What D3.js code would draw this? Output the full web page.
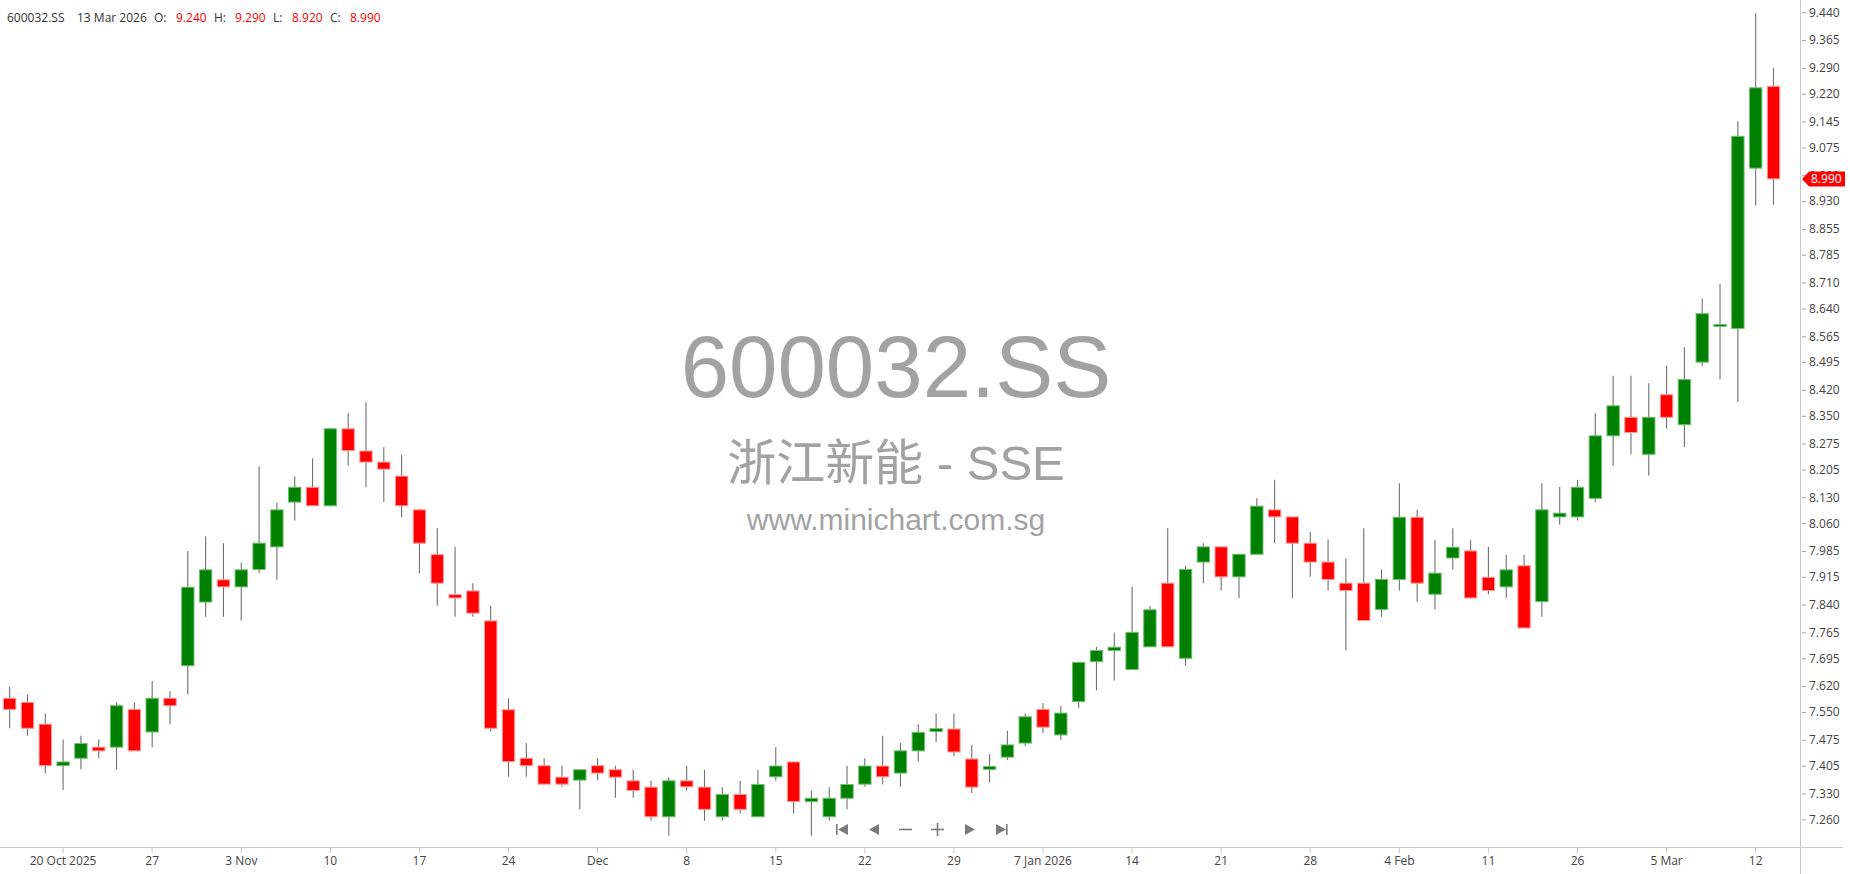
<!DOCTYPE html>
<html lang="en">
<head>
<meta charset="UTF-8">
<title>600032.SS</title>
<script src="https://d3js.org/d3.v7.min.js"></script>
<style>
  html, body { margin: 0; padding: 0; background: #fff; }
  svg { display: block; }
  .ui text { font-family: "Open Sans", "Liberation Sans", sans-serif; font-size: 12px; }
</style>
</head>
<body>
<div id="chart"></div>
<script>
// trading days, 15 Oct 2025 .. 13 Mar 2026
const dates = [
  '2025-10-15','2025-10-16','2025-10-17','2025-10-20','2025-10-21','2025-10-22','2025-10-23','2025-10-24','2025-10-27','2025-10-28','2025-10-29','2025-10-30','2025-10-31',
  '2025-11-03','2025-11-04','2025-11-05','2025-11-06','2025-11-07','2025-11-10','2025-11-11','2025-11-12','2025-11-13','2025-11-14','2025-11-17','2025-11-18','2025-11-19','2025-11-20','2025-11-21','2025-11-24','2025-11-25','2025-11-26','2025-11-27','2025-11-28',
  '2025-12-01','2025-12-02','2025-12-03','2025-12-04','2025-12-05','2025-12-08','2025-12-09','2025-12-10','2025-12-11','2025-12-12','2025-12-15','2025-12-16','2025-12-17','2025-12-18','2025-12-19','2025-12-22','2025-12-23','2025-12-24','2025-12-25','2025-12-26','2025-12-29','2025-12-30','2025-12-31',
  '2026-01-05','2026-01-06','2026-01-07','2026-01-08','2026-01-09','2026-01-12','2026-01-13','2026-01-14','2026-01-15','2026-01-16','2026-01-19','2026-01-20','2026-01-21','2026-01-22','2026-01-23','2026-01-26','2026-01-27','2026-01-28','2026-01-29','2026-01-30',
  '2026-02-02','2026-02-03','2026-02-04','2026-02-05','2026-02-06','2026-02-09','2026-02-10','2026-02-11','2026-02-12','2026-02-13','2026-02-24','2026-02-25','2026-02-26','2026-02-27',
  '2026-03-02','2026-03-03','2026-03-04','2026-03-05','2026-03-06','2026-03-09','2026-03-10','2026-03-11','2026-03-12','2026-03-13'
];
const open = [
  7.587,7.576,7.517,7.405,7.425,7.455,7.455,7.557,7.496,7.587,7.675,7.847,7.907,
  7.888,7.935,7.996,8.117,8.157,8.107,8.315,8.255,8.225,8.187,8.096,7.975,7.867,7.877,7.796,7.556,7.425,7.405,7.374,7.366,
  7.405,7.394,7.364,7.347,7.267,7.364,7.347,7.267,7.327,7.267,7.375,7.415,7.308,7.267,7.317,7.355,7.404,7.385,7.445,7.497,7.504,7.423,7.395,
  7.428,7.466,7.557,7.488,7.578,7.686,7.716,7.665,7.726,7.898,7.695,7.955,7.996,7.915,7.976,8.096,8.077,8.006,7.955,7.898,
  7.898,7.827,7.908,8.076,7.868,7.966,7.985,7.914,7.888,7.945,7.848,8.077,8.077,8.127,
  8.296,8.346,8.246,8.407,8.326,8.495,8.593,8.586,9.019,9.240
];
const high = [
  7.618,7.597,7.546,7.476,7.486,7.476,7.576,7.576,7.634,7.607,7.985,8.025,8.006,
  7.954,8.214,8.116,8.187,8.235,8.318,8.357,8.387,8.265,8.245,8.099,8.046,7.996,7.898,7.837,7.587,7.466,7.425,7.405,7.394,
  7.425,7.405,7.394,7.364,7.374,7.405,7.394,7.347,7.364,7.394,7.455,7.416,7.337,7.347,7.405,7.425,7.486,7.466,7.517,7.546,7.545,7.461,7.436,
  7.499,7.546,7.574,7.566,7.686,7.726,7.765,7.888,7.836,8.046,7.945,8.006,7.996,7.976,8.127,8.177,8.077,8.036,8.016,7.965,
  8.046,7.935,8.168,8.096,8.015,8.046,8.015,7.996,7.975,7.975,8.168,8.158,8.177,8.357,
  8.458,8.458,8.438,8.485,8.535,8.667,8.707,9.146,9.437,9.290
];
const low = [
  7.506,7.486,7.384,7.339,7.395,7.425,7.395,7.445,7.455,7.517,7.597,7.807,7.807,
  7.797,7.925,7.907,8.067,8.107,8.105,8.215,8.157,8.117,8.077,7.925,7.837,7.807,7.807,7.497,7.375,7.375,7.355,7.348,7.287,
  7.366,7.318,7.318,7.256,7.216,7.338,7.256,7.256,7.276,7.267,7.364,7.276,7.216,7.256,7.287,7.348,7.355,7.348,7.416,7.469,7.431,7.331,7.361,
  7.420,7.458,7.493,7.474,7.561,7.608,7.635,7.665,7.726,7.726,7.675,7.898,7.878,7.857,7.976,8.006,7.857,7.915,7.878,7.716,
  7.797,7.807,7.878,7.848,7.827,7.935,7.858,7.868,7.858,7.777,7.807,8.056,8.067,8.117,
  8.215,8.246,8.188,8.316,8.266,8.485,8.449,8.387,8.918,8.920
];
const close = [
  7.557,7.506,7.405,7.415,7.465,7.445,7.567,7.445,7.587,7.567,7.887,7.934,7.888,
  7.934,8.006,8.096,8.157,8.107,8.315,8.256,8.225,8.206,8.107,8.006,7.898,7.858,7.817,7.506,7.416,7.405,7.355,7.355,7.394,
  7.385,7.374,7.338,7.267,7.364,7.348,7.287,7.327,7.287,7.354,7.404,7.308,7.317,7.317,7.354,7.404,7.375,7.445,7.495,7.505,7.442,7.347,7.403,
  7.461,7.537,7.509,7.547,7.684,7.716,7.725,7.765,7.826,7.726,7.935,7.996,7.915,7.976,8.106,8.077,8.006,7.955,7.908,7.878,
  7.797,7.908,8.076,7.898,7.925,7.995,7.858,7.878,7.934,7.777,8.096,8.087,8.157,8.296,
  8.377,8.305,8.346,8.346,8.448,8.626,8.597,9.105,9.236,8.990
];

// axis ticks
const yTicks = [9.44,9.365,9.29,9.22,9.145,9.075,9.0,8.93,8.855,8.785,8.71,8.64,8.565,8.495,8.42,8.35,
  8.275,8.205,8.13,8.06,7.985,7.915,7.84,7.765,7.695,7.62,7.55,7.475,7.405,7.33,7.26];
const xTickDates = ['2025-10-20','2025-10-27','2025-11-03','2025-11-10','2025-11-17','2025-11-24','2025-12-01','2025-12-08',
  '2025-12-15','2025-12-22','2025-12-29','2026-01-07','2026-01-14','2026-01-21','2026-01-28','2026-02-04','2026-02-11',
  '2026-02-26','2026-03-05','2026-03-12'];
const xTickLabels = ['20 Oct 2025','27','3 Nov','10','17','24','Dec','8','15','22','29','7 Jan 2026','14','21','28',
  '4 Feb','11','26','5 Mar','12'];

const symbol = '600032.SS';
const companyName = '浙江新能 - SSE';
const site = 'www.minichart.com.sg';
const lastDate = '13 Mar 2026';

const W = 1850, H = 874;
const plotBottom = 847, axisX = 1800;

const svg = d3.select('#chart').append('svg')
    .attr('width', W)
    .attr('height', H);

const x = d3.scaleBand()
    .domain(dates)
    .range([0.74, 1782.4])
    .paddingInner(0.25)
    .paddingOuter(0.125);
const y = d3.scaleLinear()
    .domain([7.1853, 9.4732])
    .range([plotBottom, 0]);

const bw = x.bandwidth();
const f3 = d3.format('.3f');

// watermark
const wm = svg.append('g').attr('fill', '#a2a2a2').attr('text-anchor', 'middle');
wm.append('text')
    .attr('x', 896).attr('y', 397)
    .style('font-family', '"Liberation Sans", Arial, sans-serif')
    .style('font-size', '87px')
    .text(symbol);
wm.append('text')
    .attr('x', 896).attr('y', 480)
    .style('font-family', '"Liberation Sans", "Noto Sans CJK SC", sans-serif')
    .style('font-size', '49px')
    .text(companyName);
wm.append('text')
    .attr('x', 896).attr('y', 530)
    .style('font-family', '"Liberation Sans", Arial, sans-serif')
    .style('font-size', '30px')
    .text(site);

// frame lines
svg.append('line')
    .attr('x1', 0).attr('x2', 1843)
    .attr('y1', plotBottom + 0.5).attr('y2', plotBottom + 0.5)
    .attr('stroke', '#c8c8c8');
svg.append('line')
    .attr('x1', axisX + 0.5).attr('x2', axisX + 0.5)
    .attr('y1', 0).attr('y2', H)
    .attr('stroke', '#c8c8c8');

// candles
const candles = dates.map((d, i) => ({ d, o: open[i], h: high[i], l: low[i], c: close[i] }));

const cg = svg.append('g');
cg.selectAll('.wick')
    .data(candles)
    .enter().append('line')
    .attr('class', 'wick')
    .attr('x1', d => x(d.d) + bw / 2)
    .attr('x2', d => x(d.d) + bw / 2)
    .attr('y1', d => y(d.h))
    .attr('y2', d => y(d.l))
    .attr('stroke', '#707070')
    .attr('stroke-width', 1.1);

cg.selectAll('.body')
    .data(candles)
    .enter().append('rect')
    .attr('class', 'body')
    .attr('x', d => x(d.d) + 0.5)
    .attr('y', d => y(Math.max(d.o, d.c)))
    .attr('width', bw - 1)
    .attr('height', d => Math.max(2, Math.abs(y(d.o) - y(d.c))))
    .attr('fill', d => d.c >= d.o ? '#008000' : '#ff0000')
    .attr('stroke', d => d.c >= d.o ? '#6fbf6f' : '#ff9a9a')
    .attr('stroke-width', 1);

// right price axis
const yAxis = svg.append('g')
    .attr('class', 'ui')
    .attr('transform', `translate(${axisX + 2},0)`)
    .call(d3.axisRight(y).tickValues(yTicks).tickSize(4).tickPadding(3).tickFormat(f3));
yAxis.select('.domain').remove();
yAxis.selectAll('line').attr('stroke', '#a0a0a0');
yAxis.selectAll('text').attr('fill', '#444').style('font-family', '"Open Sans", sans-serif').style('font-size', '12px');

// bottom date axis
const xAxis = svg.append('g')
    .attr('class', 'ui')
    .attr('transform', `translate(0,${plotBottom})`)
    .call(d3.axisBottom(x).tickValues(xTickDates).tickSize(6).tickPadding(3)
        .tickFormat(d => xTickLabels[xTickDates.indexOf(d)]));
xAxis.select('.domain').remove();
xAxis.selectAll('line').attr('stroke', '#c8c8c8');
xAxis.selectAll('text').attr('fill', '#444').style('font-family', '"Open Sans", sans-serif').style('font-size', '12px');

// last price tag
const last = candles[candles.length - 1];
const ly = y(last.c);
svg.append('path')
    .attr('d', `M${axisX + 2},${ly} L${axisX + 9},${ly - 7.5} L${axisX + 45},${ly - 7.5} L${axisX + 45},${ly + 7.5} L${axisX + 9},${ly + 7.5} Z`)
    .attr('fill', '#ff0000');
svg.append('text')
    .attr('x', axisX + 11).attr('y', ly)
    .attr('dy', '0.36em')
    .attr('fill', '#fff')
    .style('font-family', '"Open Sans", sans-serif')
    .style('font-size', '12px')
    .text(f3(last.c));

// header OHLC line
const hdr = svg.append('g').attr('class', 'ui');
const parts = [
  [7, symbol, '#333'], [77, lastDate, '#333'],
  [154, 'O:', '#333'], [176, f3(last.o), '#ff0000'],
  [214, 'H:', '#333'], [235, f3(last.h), '#ff0000'],
  [273, 'L:', '#333'], [292, f3(last.l), '#ff0000'],
  [330, 'C:', '#333'], [350, f3(last.c), '#ff0000']
];
parts.forEach(p => {
  hdr.append('text').attr('x', p[0]).attr('y', 22).attr('fill', p[2]).text(p[1]);
});

// scroll / zoom buttons
const nav = svg.append('g').attr('fill', '#7a7a7a').attr('stroke', '#7a7a7a');
const ny = 829.5;
nav.append('rect').attr('x', 836).attr('y', ny - 5.5).attr('width', 1.6).attr('height', 11).attr('stroke', 'none');
nav.append('path').attr('d', `M838,${ny} L848,${ny - 5.5} L848,${ny + 5.5} Z`).attr('stroke', 'none');
nav.append('path').attr('d', `M869,${ny} L879,${ny - 5.5} L879,${ny + 5.5} Z`).attr('stroke', 'none');
nav.append('rect').attr('x', 899).attr('y', ny - 0.8).attr('width', 13).attr('height', 1.6).attr('stroke', 'none');
nav.append('rect').attr('x', 931).attr('y', ny - 0.8).attr('width', 13).attr('height', 1.6).attr('stroke', 'none');
nav.append('rect').attr('x', 936.7).attr('y', ny - 6.5).attr('width', 1.6).attr('height', 13).attr('stroke', 'none');
nav.append('path').attr('d', `M975,${ny} L965,${ny - 5.5} L965,${ny + 5.5} Z`).attr('stroke', 'none');
nav.append('path').attr('d', `M1006,${ny} L996,${ny - 5.5} L996,${ny + 5.5} Z`).attr('stroke', 'none');
nav.append('rect').attr('x', 1006).attr('y', ny - 5.5).attr('width', 1.6).attr('height', 11).attr('stroke', 'none');
</script>
</body>
</html>
